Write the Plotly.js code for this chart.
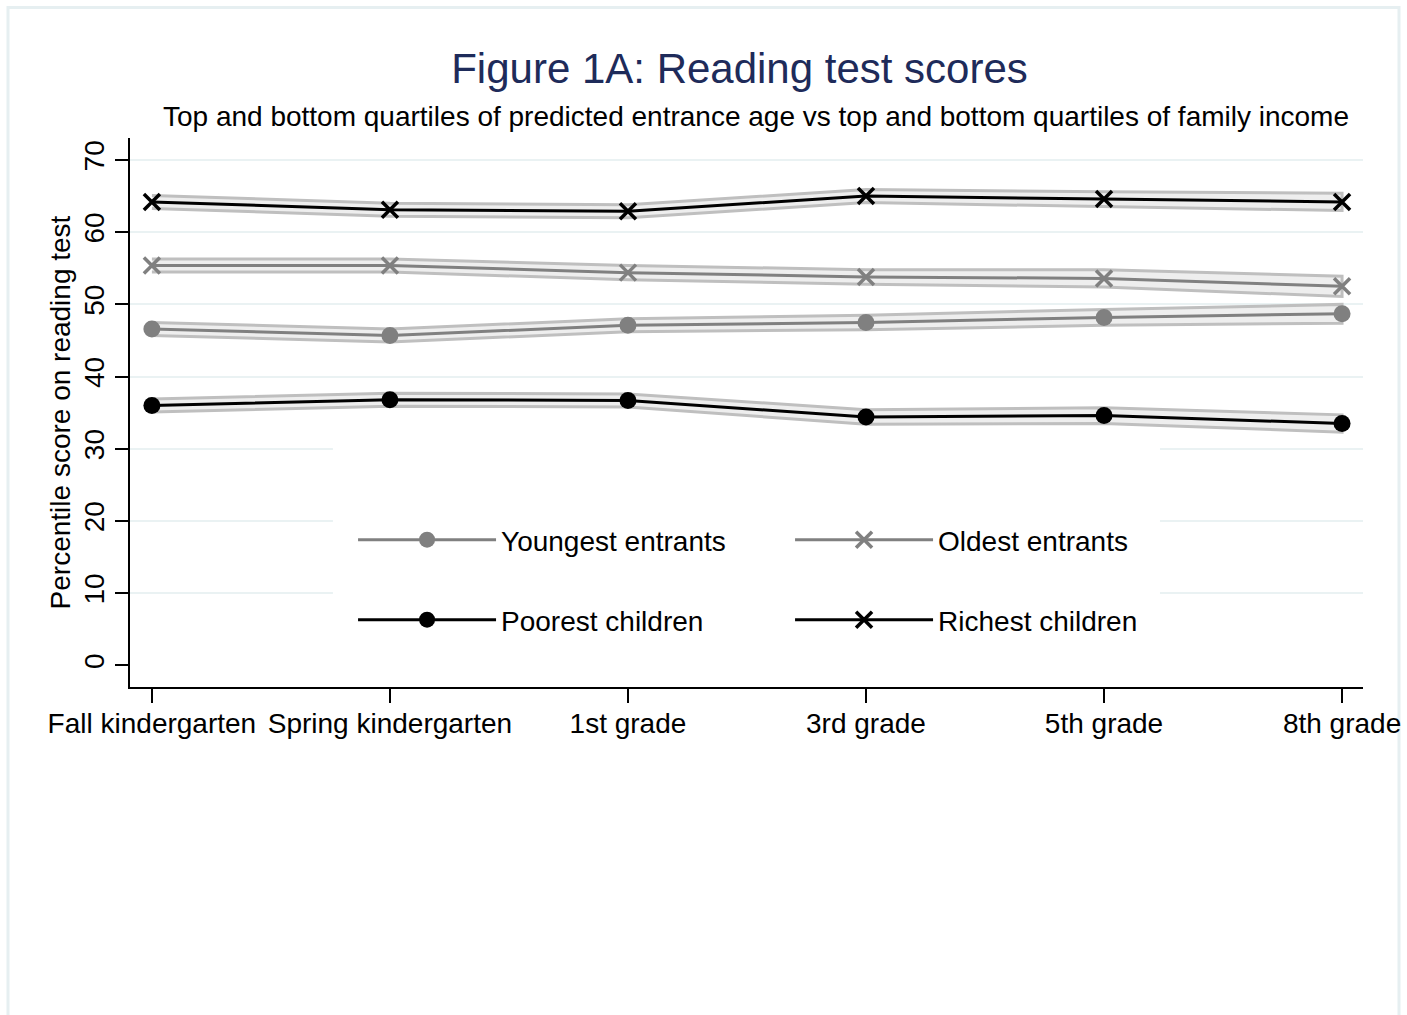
<!DOCTYPE html>
<html>
<head>
<meta charset="utf-8">
<script src="https://cdn.plot.ly/plotly-3.0.1.min.js"></script>
<style>html,body{margin:0;padding:0;background:#fff;}#chart{width:1407px;height:1015px;}</style>
</head>
<body>
<div id="chart"></div>
<script>
// ---- data ----
const grades = ["Fall kindergarten", "Spring kindergarten", "1st grade", "3rd grade", "5th grade", "8th grade"];
const youngest    = [46.6, 45.7, 47.1, 47.5, 48.2, 48.7];
const youngestLo  = [45.7, 44.8, 46.2, 46.5, 47.1, 47.4];
const youngestHi  = [47.5, 46.6, 48.0, 48.5, 49.3, 50.0];
const oldest      = [55.4, 55.4, 54.4, 53.8, 53.6, 52.5];
const oldestLo    = [54.5, 54.5, 53.4, 52.8, 52.4, 51.1];
const oldestHi    = [56.3, 56.3, 55.4, 54.8, 54.8, 53.9];
const poorest     = [36.0, 36.8, 36.7, 34.4, 34.6, 33.5];
const poorestLo   = [35.1, 35.9, 35.8, 33.4, 33.5, 32.3];
const poorestHi   = [36.9, 37.7, 37.6, 35.4, 35.7, 34.7];
const richest     = [64.2, 63.1, 62.9, 65.0, 64.6, 64.2];
const richestLo   = [63.3, 62.2, 62.0, 64.1, 63.6, 63.0];
const richestHi   = [65.1, 64.0, 63.8, 65.9, 65.6, 65.4];
const yTicks = [0, 10, 20, 30, 40, 50, 60, 70];

const FONT = "Liberation Sans, Arial, Helvetica, sans-serif";
const GRAY = "#808080";
const FS = 28;

function band(lo, hi) {
  return {
    x: grades.concat(grades.slice().reverse()),
    y: hi.concat(lo.slice().reverse()),
    type: "scatter", mode: "lines", fill: "toself",
    fillcolor: "#eeeeee",
    line: {color: "#bfbfbf", width: 3},
    hoverinfo: "skip", showlegend: false
  };
}
function series(name, y, color, symbol, legend) {
  const isX = symbol.indexOf("x") === 0;
  return {
    x: grades, y: y, name: name, type: "scatter", mode: "lines+markers",
    line: {color: color, width: 3},
    marker: isX ? {symbol: symbol, size: 16, color: color, line: {color: color, width: 3.5}}
                : {symbol: symbol, size: 17, color: color},
    legend: legend
  };
}

const data = [
  band(richestLo, richestHi),
  band(oldestLo, oldestHi),
  band(youngestLo, youngestHi),
  band(poorestLo, poorestHi),
  series("Youngest entrants", youngest, GRAY, "circle", "legend"),
  series("Oldest entrants", oldest, GRAY, "x-thin-open", "legend"),
  series("Poorest children", poorest, "#000000", "circle", "legend2"),
  series("Richest children", richest, "#000000", "x-thin-open", "legend2")
];

const legendCommon = {
  orientation: "h", xanchor: "left", yanchor: "middle",
  entrywidth: 284, entrywidthmode: "pixels", itemwidth: 138,
  bgcolor: "rgba(0,0,0,0)", font: {family: FONT, size: FS, color: "#000"},
  itemclick: false, itemdoubleclick: false
};

const layout = {
  width: 1407, height: 1015,
  paper_bgcolor: "#ffffff", plot_bgcolor: "#ffffff",
  margin: {l: 130, r: 44, t: 138, b: 328},
  font: {family: FONT, color: "#000"},
  title: {
    text: "Figure 1A: Reading test scores",
    font: {family: FONT, size: 42, color: "#1e2b5a"},
    xref: "container", x: 0.5256, xanchor: "center",
    yref: "container", y: 1 - 68/1015, yanchor: "middle"
  },
  xaxis: {
    type: "category", range: [-0.092, 5.088],
    showline: true, linecolor: "#000", linewidth: 2,
    ticks: "outside", ticklen: 14, tickwidth: 2, tickcolor: "#000",
    ticklabelstandoff: -4,
    showgrid: false, zeroline: false,
    tickfont: {family: FONT, size: FS, color: "#000"}
  },
  yaxis: {
    range: [-3, 73.05], tickvals: yTicks, ticktext: yTicks.map(String),
    tickangle: -90,
    showline: true, linecolor: "#000", linewidth: 2,
    ticks: "outside", ticklen: 13, tickwidth: 2, tickcolor: "#000",
    showgrid: true, gridcolor: "#eaf2f3", gridwidth: 2,
    zeroline: true, zerolinecolor: "rgba(0,0,0,0)",
    tickfont: {family: FONT, size: FS, color: "#000"},
    title: {text: "Percentile score on reading test", font: {family: FONT, size: FS, color: "#000"}, standoff: 0}
  },
  legend: Object.assign({}, legendCommon, {x: 0.1809, y: (687-540)/549}),
  legend2: Object.assign({}, legendCommon, {x: 0.1809, y: (687-620)/549}),
  annotations: [{
    text: "Top and bottom quartiles of predicted entrance age vs top and bottom quartiles of family income",
    xref: "paper", yref: "paper", x: (755.5-130)/1233, y: (687-116)/549,
    xanchor: "center", yanchor: "middle", showarrow: false,
    font: {family: FONT, size: FS, color: "#000"}
  }],
  shapes: [
    {type: "rect", xref: "x", yref: "y", layer: "between",
     x0: 0.7605, x1: 4.235, y0: -2.9, y1: 30.8,
     fillcolor: "#ffffff", line: {width: 0}},
    {type: "rect", xref: "paper", yref: "paper", layer: "below",
     x0: (8-130)/1233, x1: (1399-130)/1233, y0: (687-1030)/549, y1: (687-7.5)/549,
     fillcolor: "rgba(0,0,0,0)", line: {color: "#e6eff1", width: 3}}
  ],
  showlegend: true
};

Plotly.newPlot("chart", data, layout, {staticPlot: true, displayModeBar: false});
</script>
</body>
</html>
